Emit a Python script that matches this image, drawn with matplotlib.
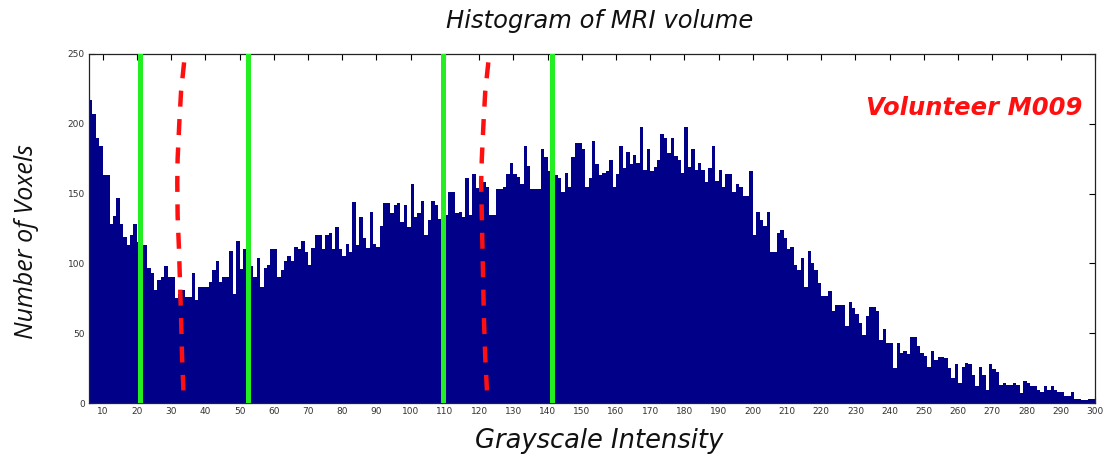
import matplotlib
matplotlib.use("Agg")
import matplotlib.pyplot as plt
import numpy as np

# ---- data ----
bin_start = 6
counts = [
    217, 207, 190, 184, 163, 163, 128, 134, 147, 128,   # 6-15
    119, 113, 120, 128, 115, 113, 113, 97, 93, 81,       # 16-25
    88, 90, 98, 90, 90, 75, 78, 81, 76, 76,              # 26-35
    93, 74, 83, 83, 83, 87, 95, 102, 87, 90,             # 36-45
    90, 109, 78, 116, 96, 110, 110, 98, 90, 104,         # 46-55
    83, 97, 99, 110, 110, 90, 95, 102, 105, 102,         # 56-65
    112, 110, 116, 108, 99, 111, 120, 120, 110, 120,     # 66-75
    122, 110, 126, 110, 105, 114, 108, 144, 113, 133,    # 76-85
    118, 111, 137, 114, 112, 127, 143, 143, 136, 142,    # 86-95
    143, 130, 142, 126, 157, 133, 136, 145, 120, 131,    # 96-105
    145, 142, 132, 155, 135, 151, 151, 136, 137, 133,    # 106-115
    161, 135, 164, 154, 157, 158, 155, 135, 135, 153,    # 116-125
    153, 155, 164, 172, 164, 162, 157, 184, 170, 153,    # 126-135
    153, 153, 182, 176, 166, 160, 163, 161, 151, 165,    # 136-145
    155, 176, 186, 186, 182, 155, 161, 188, 171, 163,    # 146-155
    165, 166, 174, 155, 164, 184, 168, 180, 171, 178,    # 156-165
    172, 198, 167, 182, 166, 169, 174, 193, 190, 179,    # 166-175
    190, 177, 174, 165, 198, 169, 182, 167, 172, 167,    # 176-185
    158, 168, 184, 159, 167, 155, 164, 164, 151, 157,    # 186-195
    155, 148, 148, 166, 120, 137, 131, 127, 137, 108,    # 196-205
    108, 122, 124, 118, 110, 112, 99, 95, 104, 83,       # 206-215
    109, 100, 95, 86, 77, 77, 80, 66, 70, 70,            # 216-225
    70, 55, 72, 68, 64, 57, 49, 62, 69, 69,              # 226-235
    66, 45, 53, 43, 43, 25, 43, 36, 37, 35,              # 236-245
    47, 47, 41, 36, 34, 26, 37, 31, 33, 33,              # 246-255
    32, 25, 18, 28, 14, 26, 29, 28, 20, 12,              # 256-265
    26, 20, 9, 28, 24, 22, 13, 14, 13, 13,               # 266-275
    14, 13, 7, 16, 14, 12, 12, 9, 8, 12,                 # 276-285
    9, 12, 9, 8, 8, 5, 5, 8, 3, 3,                       # 286-295
    2, 2, 3, 3,                                          # 296-299
]
bins = np.arange(bin_start, bin_start + len(counts))

green_thresholds = [20.8, 52.5, 109.5, 141.4]

red1_x = [33.8, 32.9, 32.4, 31.9, 31.8, 31.9, 32.3, 32.6, 32.9, 33.2, 33.6]
red1_y = [244, 223, 201, 175, 158, 134, 110, 86, 62, 33, 9]
red2_x = [122.7, 121.8, 121.3, 120.8, 120.6, 120.8, 121.0, 121.2, 121.4, 121.8, 122.3]
red2_y = [244, 223, 201, 175, 158, 134, 110, 86, 62, 33, 9]

xticks = list(range(10, 301, 10))
yticks = [0, 50, 100, 150, 200, 250]

# ---- figure ----
fig = plt.figure(figsize=(11.1, 4.61), dpi=100)
ax = fig.add_axes([89/1110, 1 - 403/461, (1095 - 89)/1110, (403 - 54)/461])

ax.bar(bins, counts, width=1.0, align='edge', color='#000088', edgecolor='none', zorder=2)

for g in green_thresholds:
    ax.axvline(g, ymin=0.006, ymax=1.0, color='#22ee22', lw=3.6, zorder=3)

for rx, ry in ((red1_x, red1_y), (red2_x, red2_y)):
    ax.plot(rx, ry, color='#ff1010', lw=3.2, linestyle=(0, (3.6, 2.8)), zorder=4,
            solid_capstyle='butt', dash_capstyle='butt')

ax.set_xlim(6, 300)
ax.set_ylim(0, 250)
ax.set_xticks(xticks)
ax.set_yticks(yticks)
ax.tick_params(direction='in', length=4, width=0.8, top=True, right=True,
               labelsize=6.5, labelcolor='#333333', pad=3)
for s in ax.spines.values():
    s.set_linewidth(0.9)
    s.set_color('#222222')

fig.text(0.54, 0.955, 'Histogram of MRI volume', ha='center', va='center',
         fontsize=17.5, style='oblique', family='DejaVu Sans', color='#111111')
fig.text(0.54, 0.043, 'Grayscale Intensity', ha='center', va='center',
         fontsize=18.5, style='oblique', family='DejaVu Sans', color='#111111')
fig.text(0.024, 0.475, 'Number of Voxels', ha='center', va='center', rotation=90,
         fontsize=18, style='italic', family='Open Sans', color='#111111')
ax.text(0.987, 0.845, 'Volunteer M009', transform=ax.transAxes, ha='right', va='center',
        fontsize=17.5, style='italic', weight='bold', family='DejaVu Sans', color='#ff1010')

fig.savefig('out.png', dpi=100)
